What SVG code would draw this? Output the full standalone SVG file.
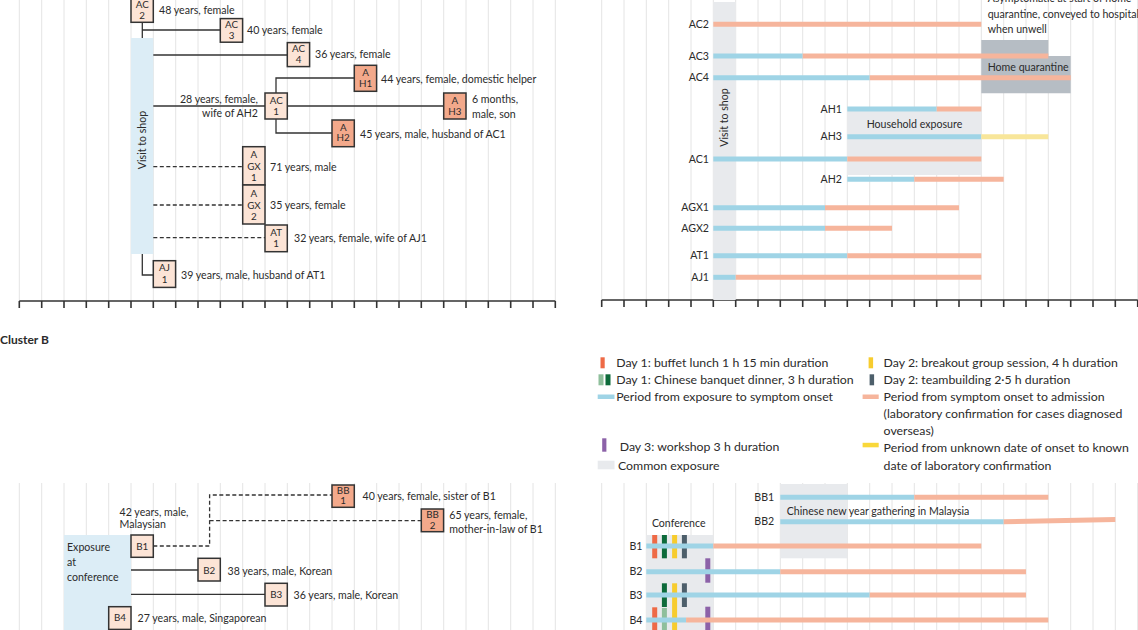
<svg xmlns="http://www.w3.org/2000/svg" width="1138" height="630" viewBox="0 0 1138 630">
<style>
text{font-family:Lato,"Liberation Sans",sans-serif;fill:#2b2b2b}
.lb{font-size:10.6px}
.lg{font-size:12.3px}
.bx{font-size:9.8px;text-anchor:middle}
.r{text-anchor:end}
.grid{stroke:#e4e4e4;stroke-width:1;fill:none}
.axis{stroke:#333;stroke-width:1.6;fill:none}
.c{stroke:#333;stroke-width:1.3;fill:none}
.d{stroke:#333;stroke-width:1.3;fill:none;stroke-dasharray:4 2.5}
.n1{fill:#fce4d6;stroke:#333;stroke-width:1.5}
.n2{fill:#f3a98b;stroke:#333;stroke-width:1.5}
.bl{stroke:#9fd4e6;stroke-width:5}
.sa{stroke:#f6b59c;stroke-width:5}
.ye{stroke:#f8e69a;stroke-width:5}
.g1{fill:#e8eaed}
</style>
<rect width="1138" height="630" fill="#fff"/>

<!-- grids -->
<g id="grids">
<path class="grid" d="M19.3,0V301M41.7,0V301M64,0V301M86.3,0V301M108.7,0V301M131,0V301M153.3,0V301M175.7,0V301M198,0V301M220.3,0V301M242.7,0V301M265,0V301M287.3,0V301M309.7,0V301M332,0V301M354.3,0V301M376.7,0V301M399,0V301M421.3,0V301M443.7,0V301M466,0V301M488.3,0V301M510.7,0V301M533,0V301M555.3,0V301"/>
<path class="grid" d="M601.7,0V300M624,0V300M646.3,0V300M668.7,0V300M691,0V300M713.3,0V300M735.7,0V300M758,0V300M780.3,0V300M802.7,0V300M825,0V300M847.3,0V300M869.7,0V300M892,0V300M914.3,0V300M936.7,0V300M959,0V300M981.3,0V300M1003.7,0V300M1026,0V300M1048.3,0V300M1070.7,0V300M1093,0V300M1115.3,0V300M1137.7,0V300"/>
<path class="grid" d="M19.3,483V630M41.7,483V630M64,483V630M86.3,483V630M108.7,483V630M131,483V630M153.3,483V630M175.7,483V630M198,483V630M220.3,483V630M242.7,483V630M265,483V630M287.3,483V630M309.7,483V630M332,483V630M354.3,483V630M376.7,483V630M399,483V630M421.3,483V630M443.7,483V630M466,483V630M488.3,483V630M510.7,483V630M533,483V630M555.3,483V630"/>
<path class="grid" d="M601.7,483V630M624,483V630M646.3,483V630M668.7,483V630M691,483V630M713.3,483V630M735.7,483V630M758,483V630M780.3,483V630M802.7,483V630M825,483V630M847.3,483V630M869.7,483V630M892,483V630M914.3,483V630M936.7,483V630M959,483V630M981.3,483V630M1003.7,483V630M1026,483V630M1048.3,483V630M1070.7,483V630M1093,483V630M1115.3,483V630M1137.7,483V630"/>
</g>

<!-- axes -->
<g id="axes">
<path class="axis" d="M19.3,301H555.3M19.3,301V308M41.7,301V308M64,301V308M86.3,301V308M108.7,301V308M131,301V308M153.3,301V308M175.7,301V308M198,301V308M220.3,301V308M242.7,301V308M265,301V308M287.3,301V308M309.7,301V308M332,301V308M354.3,301V308M376.7,301V308M399,301V308M421.3,301V308M443.7,301V308M466,301V308M488.3,301V308M510.7,301V308M533,301V308M555.3,301V308"/>
<path class="axis" d="M601.7,300H1137.7M601.7,300V307M624,300V307M646.3,300V307M668.7,300V307M691,300V307M713.3,300V307M735.7,300V307M758,300V307M780.3,300V307M802.7,300V307M825,300V307M847.3,300V307M869.7,300V307M892,300V307M914.3,300V307M936.7,300V307M959,300V307M981.3,300V307M1003.7,300V307M1026,300V307M1048.3,300V307M1070.7,300V307M1093,300V307M1115.3,300V307M1137.7,300V307"/>
</g>

<!-- ===== Cluster A tree ===== -->
<g id="shop-band">
<rect x="131" y="38" width="22.3" height="216" fill="#dcedf6"/>
<text class="lb" transform="translate(145.8,140) rotate(-90)" text-anchor="middle">Visit to shop</text>
</g>

<g id="connectors">
<path class="c" d="M142.3,22.3V38M142.3,30H220.3"/>
<path class="c" d="M153.3,55H287.3"/>
<path class="c" d="M153.3,106H265"/>
<path class="c" d="M276,93V78H354.3"/>
<path class="c" d="M287.3,106H443.7"/>
<path class="c" d="M276,119V133H332"/>
<path class="d" d="M153.3,166.7H242.7"/>
<path class="d" d="M153.3,205H242.7"/>
<path class="d" d="M153.3,237.7H265"/>
<path class="c" d="M142.3,254V275H153.3"/>
<path class="d" d="M153.3,546H209.6V495H332"/>
<path class="d" d="M209.6,520.7H421.3"/>
<path class="c" d="M131,570H198"/>
<path class="c" d="M131,594.3H265"/>
</g>

<g id="AC2"><rect class="n1" x="131" y="-1.5" width="22.3" height="23.8"/><text class="bx" x="142.2" y="8.2">AC</text><text class="bx" x="142.2" y="19.3">2</text><text class="lb" x="159" y="14.3">48 years, female</text></g>
<g id="AC3"><rect class="n1" x="220.3" y="18.6" width="22.3" height="23.6"/><text class="bx" x="231.5" y="28">AC</text><text class="bx" x="231.5" y="39">3</text><text class="lb" x="247" y="34.3">40 years, female</text></g>
<g id="AC4"><rect class="n1" x="287.3" y="42.6" width="22.3" height="24"/><text class="bx" x="298.5" y="52">AC</text><text class="bx" x="298.5" y="63">4</text><text class="lb" x="315" y="58">36 years, female</text></g>
<g id="AH1"><rect class="n2" x="354.3" y="65.3" width="22.3" height="26"/><text class="bx" x="365.5" y="76.3">A</text><text class="bx" x="365.5" y="86.6">H1</text><text class="lb" x="381" y="83">44 years, female, domestic helper</text></g>
<g id="AC1"><rect class="n1" x="265" y="93" width="22.3" height="26"/><text class="bx" x="276.2" y="103.6">AC</text><text class="bx" x="276.2" y="114.8">1</text><text class="lb r" x="258" y="103">28 years, female,</text><text class="lb r" x="258" y="117">wife of AH2</text></g>
<g id="AH3"><rect class="n2" x="443.7" y="93" width="22.3" height="26"/><text class="bx" x="454.9" y="103.6">A</text><text class="bx" x="454.9" y="114.8">H3</text><text class="lb" x="472" y="103">6 months,</text><text class="lb" x="472" y="117.6">male, son</text></g>
<g id="AH2"><rect class="n2" x="332" y="120" width="22.3" height="26.7"/><text class="bx" x="343.2" y="130.6">A</text><text class="bx" x="343.2" y="141.3">H2</text><text class="lb" x="360" y="138">45 years, male, husband of AC1</text></g>
<g id="AGX1"><rect class="n1" x="242.7" y="146.7" width="22.3" height="38.3"/><text class="bx" x="253.9" y="158.4">A</text><text class="bx" x="253.9" y="169.6">GX</text><text class="bx" x="253.9" y="180.6">1</text><text class="lb" x="270" y="171">71 years, male</text></g>
<g id="AGX2"><rect class="n1" x="242.7" y="185" width="22.3" height="39"/><text class="bx" x="253.9" y="197.2">A</text><text class="bx" x="253.9" y="208.5">GX</text><text class="bx" x="253.9" y="219.8">2</text><text class="lb" x="270" y="208.7">35 years, female</text></g>
<g id="AT1"><rect class="n1" x="265" y="225" width="22.3" height="26.7"/><text class="bx" x="276.2" y="235.7">AT</text><text class="bx" x="276.2" y="247.1">1</text><text class="lb" x="294" y="242">32 years, female, wife of AJ1</text></g>
<g id="AJ1"><rect class="n1" x="153.3" y="260.7" width="22.3" height="26.7"/><text class="bx" x="164.5" y="271.2">AJ</text><text class="bx" x="164.5" y="283">1</text><text class="lb" x="181" y="278.7">39 years, male, husband of AT1</text></g>

<!-- ===== Cluster A timeline ===== -->
<g id="timeline-A">
<rect class="g1" x="713.3" y="2" width="22.4" height="298"/>
<text class="lb" transform="translate(728.2,117.5) rotate(-90)" text-anchor="middle">Visit to shop</text>
<rect class="g1" x="847.3" y="107" width="134" height="68"/>
<text class="lb" x="866.7" y="128">Household exposure</text>
<path d="M981.3,40H1048.3V56H1070.7V93.3H981.3Z" fill="#b6bdc4"/>
<text class="lb" x="987.7" y="70.5">Home quarantine</text>
<text class="lb" x="987.7" y="1.8">Asymptomatic at start of home</text>
<text class="lb" x="987.7" y="17.6">quarantine, conveyed to hospital</text>
<text class="lb" x="987.7" y="33.2">when unwell</text>

<line class="sa" x1="713.3" y1="24.3" x2="981.3" y2="24.3"/>
<line class="bl" x1="713.3" y1="56" x2="802.7" y2="56"/><line class="sa" x1="802.7" y1="56" x2="1048.3" y2="56"/>
<line class="bl" x1="713.3" y1="77.7" x2="869.7" y2="77.7"/><line class="sa" x1="869.7" y1="77.7" x2="1070.7" y2="77.7"/>
<line class="bl" x1="847.3" y1="109" x2="936.7" y2="109"/><line class="sa" x1="936.7" y1="109" x2="981.3" y2="109"/>
<line class="bl" x1="847.3" y1="136.7" x2="981.3" y2="136.7"/><line class="ye" x1="981.3" y1="136.7" x2="1048.3" y2="136.7"/>
<line class="bl" x1="713.3" y1="159" x2="847.3" y2="159"/><line class="sa" x1="847.3" y1="159" x2="981.3" y2="159"/>
<line class="bl" x1="847.3" y1="179.3" x2="914.3" y2="179.3"/><line class="sa" x1="914.3" y1="179.3" x2="1003.7" y2="179.3"/>
<line class="bl" x1="713.3" y1="207.7" x2="825" y2="207.7"/><line class="sa" x1="825" y1="207.7" x2="959" y2="207.7"/>
<line class="bl" x1="713.3" y1="228.3" x2="825" y2="228.3"/><line class="sa" x1="825" y1="228.3" x2="892" y2="228.3"/>
<line class="bl" x1="713.3" y1="255.7" x2="847.3" y2="255.7"/><line class="sa" x1="847.3" y1="255.7" x2="981.3" y2="255.7"/>
<line class="bl" x1="713.3" y1="277.3" x2="735.7" y2="277.3"/><line class="sa" x1="735.7" y1="277.3" x2="981.3" y2="277.3"/>

<text class="lb r" x="709" y="28">AC2</text>
<text class="lb r" x="709" y="59.7">AC3</text>
<text class="lb r" x="709" y="81.4">AC4</text>
<text class="lb r" x="842" y="112.7">AH1</text>
<text class="lb r" x="842" y="140.4">AH3</text>
<text class="lb r" x="709" y="162.7">AC1</text>
<text class="lb r" x="842" y="183">AH2</text>
<text class="lb r" x="709" y="211.4">AGX1</text>
<text class="lb r" x="709" y="232">AGX2</text>
<text class="lb r" x="709" y="259.4">AT1</text>
<text class="lb r" x="709" y="281">AJ1</text>
</g>

<!-- ===== Cluster B ===== -->
<text x="0" y="344" style="font-size:12px;font-weight:bold">Cluster B</text>

<g id="conf-band">
<rect x="64" y="535" width="67" height="95" fill="#dcedf6"/>
<text class="lb" x="67" y="551">Exposure</text>
<text class="lb" x="67" y="565.5">at</text>
<text class="lb" x="67" y="580.5">conference</text>
</g>

<g id="B1"><rect class="n1" x="131" y="535" width="22.3" height="22.3"/><text class="bx" x="142.2" y="549.7">B1</text><text class="lb" x="119.6" y="515.7">42 years, male,</text><text class="lb" x="119.6" y="528.3">Malaysian</text></g>
<g id="BB1"><rect class="n2" x="332" y="485" width="22.3" height="22.3"/><text class="bx" x="343.2" y="493.8">BB</text><text class="bx" x="343.2" y="504.4">1</text><text class="lb" x="362.5" y="499.7">40 years, female, sister of B1</text></g>
<g id="BB2"><rect class="n2" x="421.3" y="509" width="22.3" height="22.7"/><text class="bx" x="432.5" y="517.9">BB</text><text class="bx" x="432.5" y="528.7">2</text><text class="lb" x="449.3" y="519">65 years, female,</text><text class="lb" x="449.3" y="533">mother-in-law of B1</text></g>
<g id="B2"><rect class="n1" x="198" y="558.3" width="22.3" height="22.7"/><text class="bx" x="209.2" y="573.7">B2</text><text class="lb" x="227.5" y="574.5">38 years, male, Korean</text></g>
<g id="B3"><rect class="n1" x="265" y="583.3" width="22.3" height="22.7"/><text class="bx" x="276.2" y="598">B3</text><text class="lb" x="293.6" y="598.5">36 years, male, Korean</text></g>
<g id="B4"><rect class="n1" x="108.7" y="606.7" width="22.3" height="22.7"/><text class="bx" x="119.9" y="621.4">B4</text><text class="lb" x="137.5" y="622">27 years, male, Singaporean</text></g>

<!-- legend -->
<g id="legend">
<rect x="600.5" y="357.3" width="4.2" height="11" fill="#ee6a46"/>
<text class="lg" x="616.2" y="367">Day 1: buffet lunch 1 h 15 min duration</text>
<rect x="598.5" y="374.3" width="5" height="11" fill="#8fbf9c"/>
<rect x="605.5" y="374.3" width="5" height="11" fill="#0d6a3a"/>
<text class="lg" x="616.2" y="383.8">Day 1: Chinese banquet dinner, 3 h duration</text>
<rect x="597.7" y="394.5" width="16.8" height="4.5" fill="#9fd4e6"/>
<text class="lg" x="616.2" y="401.2">Period from exposure to symptom onset</text>
<rect x="602.2" y="438.3" width="4.2" height="13.4" fill="#8c62a8"/>
<text class="lg" x="619.7" y="450.5">Day 3: workshop 3 h duration</text>
<rect x="597.7" y="460.7" width="16.8" height="8.6" fill="#e8eaed"/>
<text class="lg" x="618" y="469.5">Common exposure</text>

<rect x="868.6" y="357.3" width="4.5" height="11" fill="#f7cc2e"/>
<text class="lg" x="883.6" y="367">Day 2: breakout group session, 4 h duration</text>
<rect x="869.6" y="374.3" width="4.5" height="11" fill="#4d5f6b"/>
<text class="lg" x="883.6" y="383.8">Day 2: teambuilding 2·5 h duration</text>
<rect x="862.6" y="394.5" width="16.1" height="4.5" fill="#f6b59c"/>
<text class="lg" x="883.6" y="401.2">Period from symptom onset to admission</text>
<text class="lg" x="883.6" y="417.8">(laboratory confirmation for cases diagnosed</text>
<text class="lg" x="883.6" y="434.5">overseas)</text>
<rect x="862.6" y="442.8" width="16.1" height="4.5" fill="#f9d83a"/>
<text class="lg" x="883.6" y="451.5">Period from unknown date of onset to known</text>
<text class="lg" x="883.6" y="469.5">date of laboratory confirmation</text>
</g>

<!-- ===== Cluster B timeline ===== -->
<g id="timeline-B">
<rect class="g1" x="646.3" y="535" width="67" height="95"/>
<text class="lb" x="651.9" y="527.3">Conference</text>
<rect class="g1" x="780.3" y="484" width="67" height="74.3"/>
<text class="lb" x="786.8" y="514.7">Chinese new year gathering in Malaysia</text>

<g id="events">
<rect x="652.2" y="535" width="5" height="23.3" fill="#ee6a46"/>
<rect x="661.9" y="535" width="5" height="23.3" fill="#0d6a3a"/>
<rect x="672.1" y="535" width="5" height="23.3" fill="#f7cc2e"/>
<rect x="681.9" y="535" width="5" height="23.3" fill="#4d5f6b"/>
<rect x="705.3" y="558.3" width="5" height="24.4" fill="#8c62a8"/>
<rect x="661.9" y="583.3" width="5" height="23.7" fill="#0d6a3a"/>
<rect x="672.1" y="583.3" width="5" height="46.7" fill="#f7cc2e"/>
<rect x="681.9" y="583.3" width="5" height="23.7" fill="#4d5f6b"/>
<rect x="652.2" y="607.3" width="5" height="22.7" fill="#ee6a46"/>
<rect x="661.9" y="608" width="5" height="22" fill="#8fbf9c"/>
<rect x="705.3" y="606.7" width="5" height="23.3" fill="#8c62a8"/>
</g>

<line class="bl" x1="780.3" y1="497.3" x2="914.3" y2="497.3"/><line class="sa" x1="914.3" y1="497.3" x2="1048.3" y2="497.3"/>
<line class="bl" x1="780.3" y1="521.7" x2="1003.7" y2="521.7"/><line class="sa" x1="1003.7" y1="521.7" x2="1115.3" y2="519.4"/>
<line class="bl" x1="646.3" y1="546" x2="713.3" y2="546"/><line class="sa" x1="713.3" y1="546" x2="981.3" y2="546"/>
<line class="bl" x1="646.3" y1="571.7" x2="780.3" y2="571.7"/><line class="sa" x1="780.3" y1="571.7" x2="1026" y2="571.7"/>
<line class="bl" x1="646.3" y1="595" x2="869.7" y2="595"/><line class="sa" x1="869.7" y1="595" x2="1026" y2="595"/>
<line class="bl" x1="646.3" y1="620" x2="686.1" y2="620"/><line class="sa" x1="686.1" y1="620" x2="1048.3" y2="620"/>

<text class="lb r" x="774.2" y="501">BB1</text>
<text class="lb r" x="774.2" y="525.4">BB2</text>
<text class="lb r" x="642.4" y="549.7">B1</text>
<text class="lb r" x="642.4" y="575.4">B2</text>
<text class="lb r" x="642.4" y="598.7">B3</text>
<text class="lb r" x="642.4" y="623.7">B4</text>
</g>
</svg>
